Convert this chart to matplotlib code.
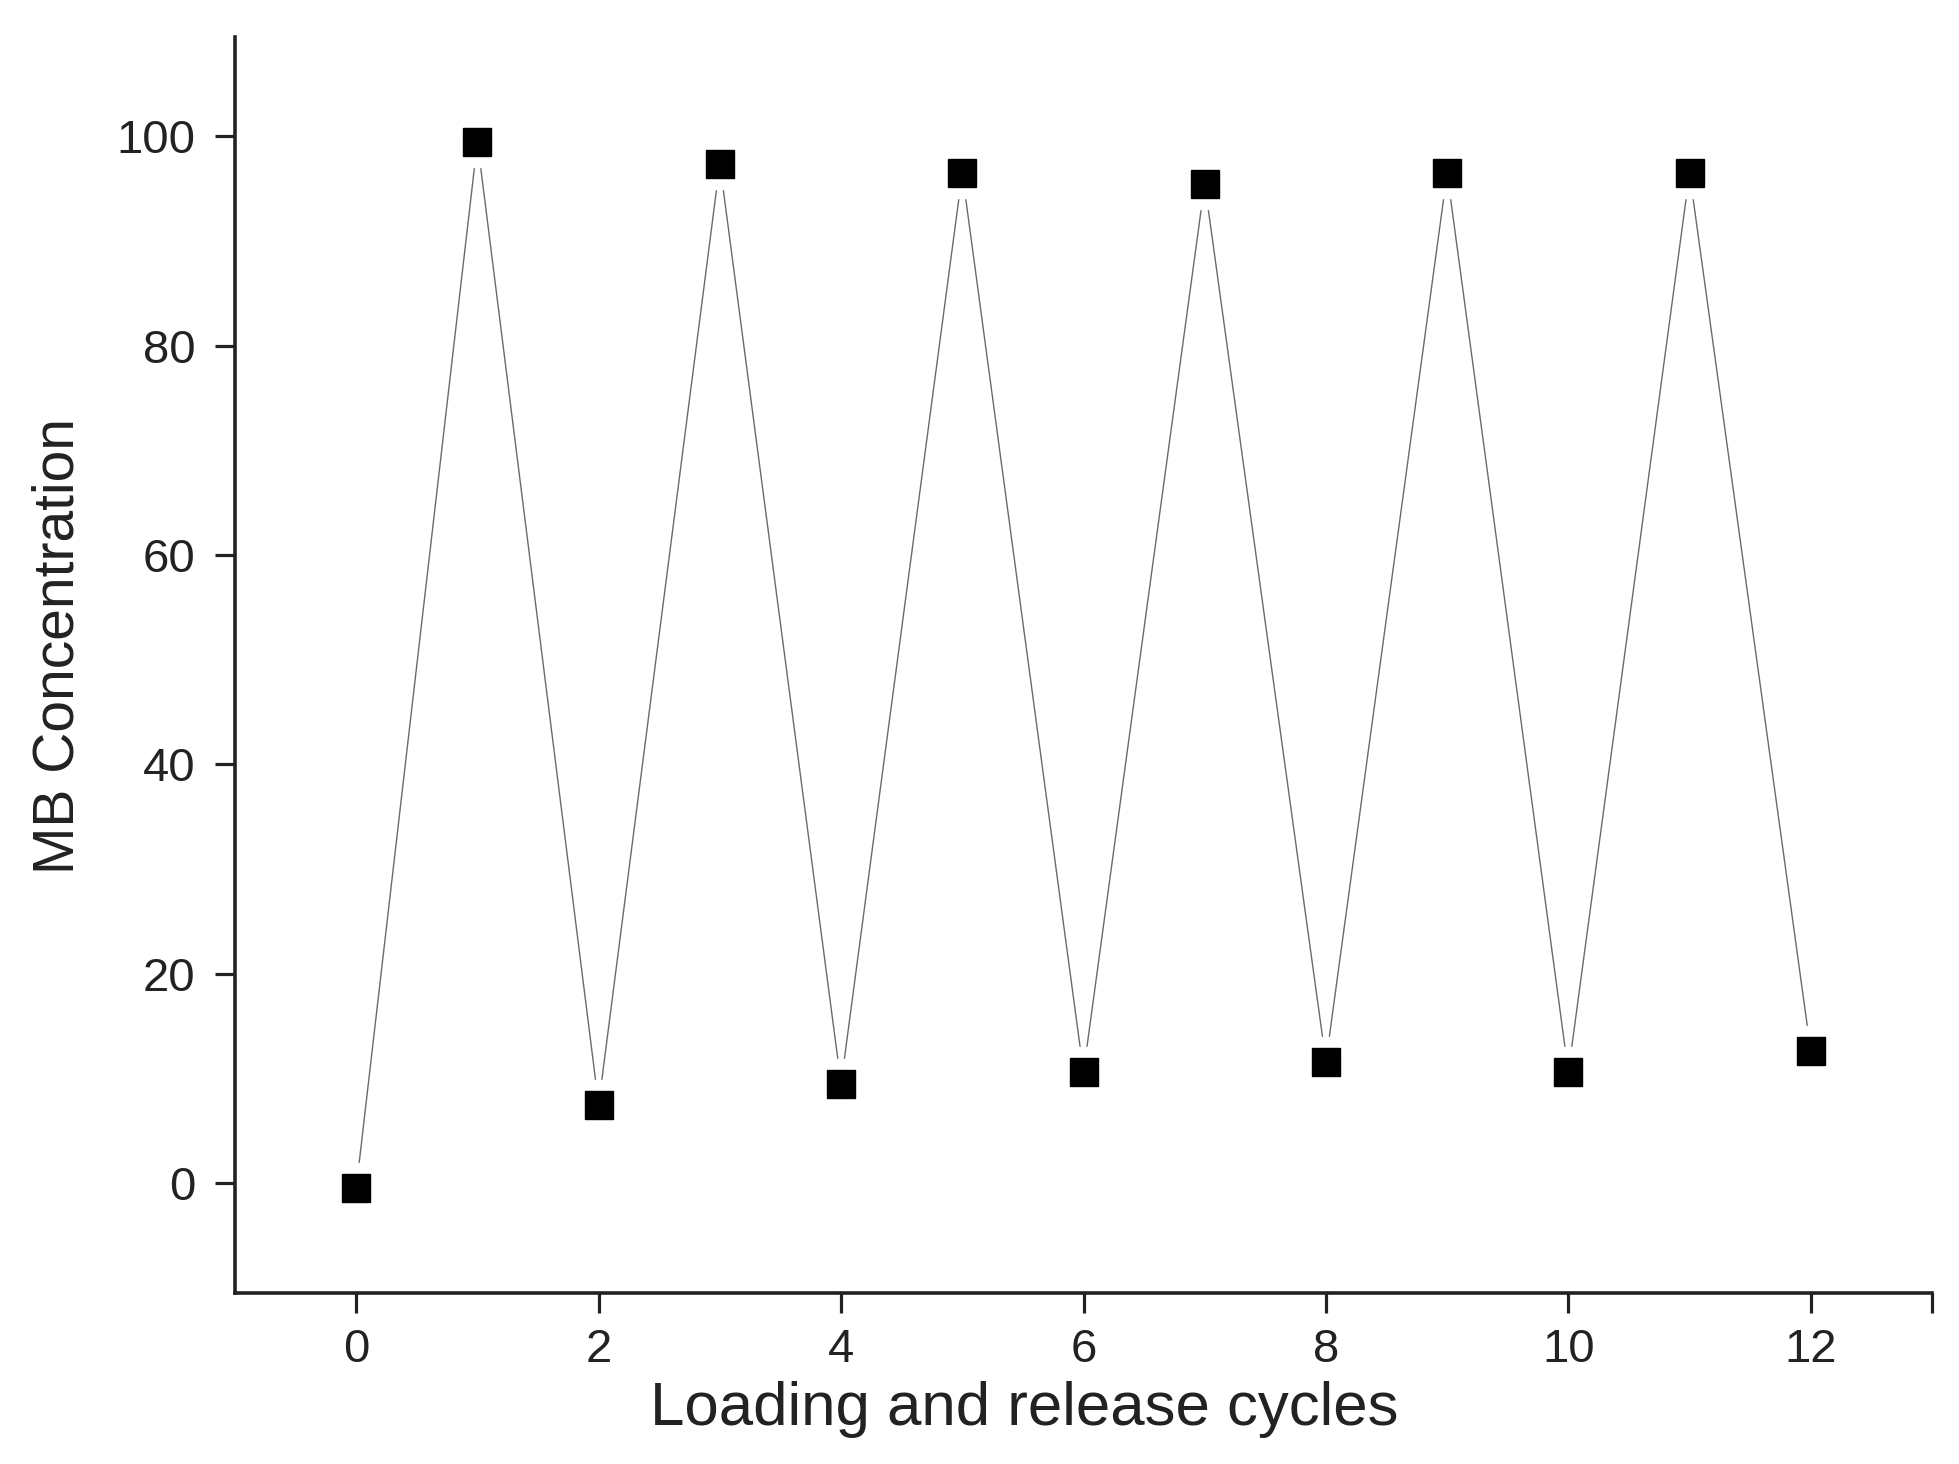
import matplotlib
matplotlib.use("Agg")
import matplotlib.pyplot as plt

cycles = [0, 1, 2, 3, 4, 5, 6, 7, 8, 9, 10, 11, 12]
mb_conc = [-0.5, 99.5, 7.5, 97.4, 9.5, 96.5, 10.6, 95.5, 11.6, 96.5, 10.6, 96.5, 12.6]
xticks = [0, 2, 4, 6, 8, 10, 12]
yticks = [0, 20, 40, 60, 80, 100]

plt.rcParams['font.family'] = ['Liberation Sans', 'DejaVu Sans']

fig = plt.figure(figsize=(19.59, 14.64), dpi=100)
ax = fig.add_axes([235/1959, 1 - 1293/1464, (1932 - 235)/1959, (1293 - 37)/1464])

ax.plot(cycles, mb_conc, color='#6a6a6a', lw=1.0, zorder=1)
# white gap around symbols
ax.plot(cycles, mb_conc, ls='none', marker='s', ms=36, mfc='white', mec='white', zorder=2)
ax.plot(cycles, mb_conc, ls='none', marker='s', ms=20, mfc='black', mec='black', zorder=3)

ax.set_xlim(-1, 13)
ax.set_ylim(-10.5, 109.5)
ax.set_xticks(xticks + [13])
ax.set_xticklabels([str(t) for t in xticks] + [''])
ax.set_yticks(yticks)

for s in ['top', 'right']:
    ax.spines[s].set_visible(False)
for s in ['left', 'bottom']:
    ax.spines[s].set_linewidth(2.6)
    ax.spines[s].set_color('#222222')

ax.tick_params(axis='both', direction='out', length=14.5, width=2.3, color='#222222',
               labelsize=34, labelcolor='#222222')
ax.tick_params(axis='x', pad=11)
ax.tick_params(axis='y', pad=14)

ax.set_xlabel('Loading and release cycles', fontsize=44.5, color='#222222')
ax.xaxis.set_label_coords((1024 - 235)/1697, (1293 - 1409)/1256)
ax.xaxis.label.set_verticalalignment('center')

ax.set_ylabel('MB Concentration', fontsize=41, color='#222222')
ax.yaxis.set_label_coords((59 - 235)/1697, (1293 - 646)/1256)
ax.yaxis.label.set_verticalalignment('center')
ax.yaxis.label.set_horizontalalignment('center')

fig.savefig('out.png', dpi=100, facecolor='white')
